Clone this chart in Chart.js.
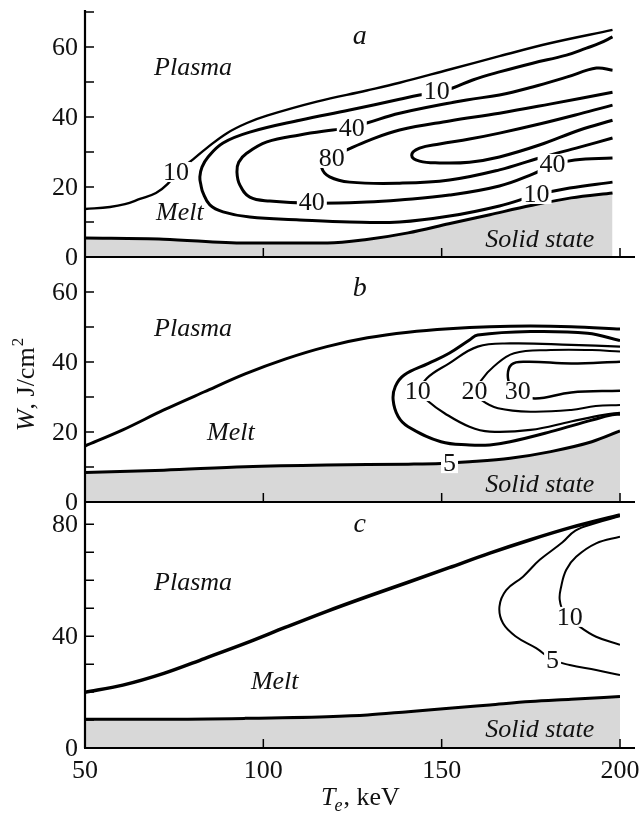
<!DOCTYPE html>
<html>
<head>
<meta charset="utf-8">
<script src="https://cdn.jsdelivr.net/npm/chart.js@4/dist/chart.umd.min.js"></script>
<style>
  html, body { margin: 0; padding: 0; background: #fff; }
  #wrap { position: relative; width: 640px; height: 813px; }
  #wrap canvas { position: absolute; left: 0; top: 0; }
</style>
</head>
<body>
<div id="wrap">
  <canvas id="chartA" width="640" height="813"></canvas>
  <canvas id="chartB" width="640" height="813"></canvas>
  <canvas id="chartC" width="640" height="813"></canvas>
</div>
<script>
// Ось X (T_e, keV)
const xTickValues = [50, 100, 150, 200];

// Панель a: границы и изолинии (x = T_e, y = W)
const aPlasma = [[50,13.7],[57,14.3],[61.2,15.1],[65.4,16.6],[69.9,18.3],[73.2,20.9],[75.8,24.3],[80.3,27.9],[84.2,31.2],[89.8,35.4],[95.4,38.3],[101,40.4],[115,44.4],[129,47.6],[138.2,49.8],[152.2,53.6],[166.2,57.4],[180.3,61.1],[197.9,64.9]];
const aLevel10 = [[197.9,62.9],[194.3,61.1],[190.6,59.7],[185,57.7],[175.5,55.4],[166.2,52.9],[158.7,50.6],[153.1,48.3],[148.6,47.1],[143.8,46.3],[138.2,45.1],[124.2,42],[110.2,39.1],[96.2,35.7],[88.7,32.6],[84.5,28.6],[82.8,25.7],[82.2,22.9],[82.5,20.6],[83.1,18.3],[85,14.9],[88.7,12.9],[96.2,11.4],[110.2,10.6],[124.2,10],[138.2,10],[152.2,11.7],[166.2,14.6],[176.6,17.7],[185.9,19.7],[197.9,21.4]];
const aLevel40 = [[197.9,53.4],[193.4,54],[185,51.4],[175.5,48.6],[166.2,46.3],[157,44.9],[138.2,41.1],[129,38.3],[124.2,36.9],[119.5,36.3],[110.2,34.9],[101,32.9],[95.4,29.7],[93.1,27.1],[92.6,24.3],[93.4,20.6],[96.2,17.1],[101.8,16],[113.9,15.4],[129,15.7],[138.2,16.3],[152.2,17.7],[166.2,20.3],[175.5,23.7],[181.1,26.3],[187.3,27.7],[197.9,28.3]];
const aLevel80 = [[197.9,47.1],[180.3,43.7],[166.2,41.1],[152.2,38.9],[138.2,36.3],[129.8,33.4],[122.8,30.3],[117.2,27.7],[116.4,25.4],[118.6,22.9],[124.2,21.4],[138.2,21.1],[152.2,22],[166.2,24.9],[177.4,28.3],[188.7,31.4],[197.9,34]];
const aLevelIn = [[197.9,43.4],[188.7,40.9],[177.4,38],[166.2,35.4],[157.8,33.7],[149.4,32.3],[143.8,31.1],[141.6,29.1],[143.8,27.4],[149.4,26.9],[157.8,27.1],[166.2,28.6],[177.4,32],[188.7,36.3],[197.9,39.1]];
const aSolid = [[50,5.4],[72,5.1],[95,4],[118,4],[129,5],[140.6,6.9],[152,9.5],[163.5,12.1],[175,14.7],[186.3,16.9],[197.9,18.3]];

// Панель b
const bPlasma = [[50,16],[60.6,20.6],[72.1,26.3],[83.5,31.5],[94.9,36.6],[106.3,40.9],[117.8,44.4],[129.2,46.9],[140.6,48.5],[152.1,49.5],[163.5,50.1],[174.9,50.3],[186.3,50.1],[200,49.4]];
const bOuter = [[200,46.1],[190.9,48.2],[174.9,48.7],[160.1,47.7],[157.8,46.3],[152.1,42.5],[146.3,39.6],[139.5,36.3],[137,33],[136.4,29.1],[137.8,24.4],[140.6,21.5],[149.8,17.2],[157.8,16.3],[163.5,16.3],[169.2,17.2],[180.6,20.1],[192.1,23.4],[197.8,24.9],[200,25.1]];
const bLevel10 = [[200,44.4],[186.3,44.9],[169.2,45.3],[160.1,44.4],[152.1,39.6],[145.8,35.3],[144.1,31.5],[146.3,28.7],[150.9,25.3],[157.8,21.5],[163.5,20.1],[174.9,20.6],[186.3,23],[195.5,24.9],[200,25.5]];
const bLevel20 = [[200,43],[192.1,43.4],[180.6,43.4],[170.3,42.5],[164.6,38.7],[161.2,34.9],[159.5,31.5],[161.2,29.1],[165.8,26.8],[174.9,25.8],[186.3,26.3],[193.2,27.4],[200,27.7]];
const bLevel30 = [[200,40.1],[186.3,39.6],[173.8,40.1],[169.6,39.3],[168.6,35.3],[170.5,31.5],[176.1,29.6],[186.3,31.3],[200,31.8]];
const bSolid = [[50,8.4],[72.1,9.1],[94.9,10.1],[117.8,10.6],[140.6,10.8],[149.8,11],[157.8,11.5],[169.2,12.5],[180.6,14.4],[192.1,17.2],[200,20.3]];

// Панель c
const cPlasma = [[50,19.9],[60.6,22.5],[72.1,26.7],[83.5,32],[94.9,37.4],[106.3,43.2],[117.8,48.9],[129.2,54.2],[140.6,59.3],[152.1,64.5],[163.5,69.7],[174.9,74.5],[186.3,78.9],[200,83.4]];
const cLevel5 = [[200,82.9],[193,80.4],[187.5,77.8],[183.8,73.5],[177.5,67.3],[172.8,61.3],[168.1,56.5],[166.2,50.6],[167.2,44.6],[170.9,39.8],[176.5,35.7],[181.2,31.5],[185.9,29.7],[193.3,27.9],[200,26.1]];
const cLevel10 = [[200,75.6],[193.3,73.2],[187.7,68.4],[184.9,63.7],[183.5,57.7],[183.1,53],[184.5,48],[188.7,43.4],[193.3,39.8],[200,36.9]];
const cSolid = [[50,10.3],[72.1,10.3],[94.9,10.6],[117.8,11.2],[129.2,11.8],[140.6,13],[152.1,14.2],[163.5,15.4],[174.9,16.6],[186.3,17.4],[200,18.4]];

const GRAY = '#d8d8d8';
const INK = '#111';
const FONT = '"Liberation Serif", "Times New Roman", serif';

function toPts(arr) {
    return arr.map(p => ({ x: p[0], y: p[1] }));
}

// Оси, засечки, подписи и надписи поверх линий
const decorPlugin = {
    id: 'decor',
    afterDatasetsDraw(chart, args, o) {
        const ctx = chart.ctx;
        const xs = chart.scales.x;
        const ys = chart.scales.y;
        const area = chart.chartArea;
        ctx.save();

        ctx.strokeStyle = '#000';
        ctx.lineWidth = 2.2;
        ctx.beginPath();
        ctx.moveTo(area.left, area.top);
        ctx.lineTo(area.left, area.bottom);
        ctx.moveTo(area.left - 1, area.bottom);
        ctx.lineTo(area.right + 15, area.bottom);
        ctx.stroke();

        ctx.lineWidth = 1.5;
        ctx.beginPath();
        o.yMinor.forEach(v => {
            const py = ys.getPixelForValue(v);
            ctx.moveTo(area.left, py);
            ctx.lineTo(area.left + 9, py);
        });
        xTickValues.slice(1).forEach(v => {
            const px = xs.getPixelForValue(v);
            ctx.moveTo(px, area.bottom);
            ctx.lineTo(px, area.bottom - 9);
        });
        ctx.stroke();

        ctx.fillStyle = INK;
        ctx.font = '26px ' + FONT;
        ctx.textAlign = 'right';
        ctx.textBaseline = 'middle';
        o.yLabels.forEach(v => ctx.fillText(String(v), area.left - 7, ys.getPixelForValue(v) + 1));

        if (o.xLabels) {
            ctx.textAlign = 'center';
            ctx.textBaseline = 'top';
            xTickValues.forEach(v => ctx.fillText(String(v), xs.getPixelForValue(v), area.bottom + 10));
        }

        // числа на изолиниях (с белой подложкой)
        ctx.textAlign = 'center';
        ctx.textBaseline = 'middle';
        o.numbers.forEach(n => {
            const px = xs.getPixelForValue(n[1]);
            const py = ys.getPixelForValue(n[2]);
            const w = ctx.measureText(n[0]).width;
            ctx.fillStyle = '#fff';
            ctx.fillRect(px - w / 2 - 2, py - 10, w + 4, 20);
            ctx.fillStyle = INK;
            ctx.fillText(n[0], px, py + 1);
        });

        ctx.font = 'italic 26px ' + FONT;
        o.regions.forEach(r => ctx.fillText(r[0], xs.getPixelForValue(r[1]), ys.getPixelForValue(r[2])));

        ctx.font = 'italic 28px ' + FONT;
        ctx.fillText(o.letter[0], xs.getPixelForValue(o.letter[1]), ys.getPixelForValue(o.letter[2]));

        if (o.titles) {
            // подпись оси X: T_e, keV
            const cx = (area.left + area.right) / 2 + 8;
            const by = area.bottom + 57;
            ctx.textAlign = 'left';
            ctx.textBaseline = 'alphabetic';
            ctx.font = 'italic 26px ' + FONT;
            const wT = ctx.measureText('T').width;
            ctx.font = 'italic 18px ' + FONT;
            const wE = ctx.measureText('e').width;
            ctx.font = '26px ' + FONT;
            const wK = ctx.measureText(', keV').width;
            let x0 = cx - (wT + wE + wK) / 2;
            ctx.font = 'italic 26px ' + FONT;
            ctx.fillText('T', x0, by);
            ctx.font = 'italic 18px ' + FONT;
            ctx.fillText('e', x0 + wT - 1, by + 6);
            ctx.font = '26px ' + FONT;
            ctx.fillText(', keV', x0 + wT + wE, by);

            // подпись оси Y: W, J/cm^2
            ctx.save();
            ctx.translate(area.left - 60, 385);
            ctx.rotate(-Math.PI / 2);
            ctx.font = 'italic 26px ' + FONT;
            const wW = ctx.measureText('W').width;
            ctx.font = '26px ' + FONT;
            const wJ = ctx.measureText(', J/cm').width;
            ctx.font = '17px ' + FONT;
            const w2 = ctx.measureText('2').width;
            x0 = -(wW + wJ + w2) / 2;
            ctx.font = 'italic 26px ' + FONT;
            ctx.fillText('W', x0, 9);
            ctx.font = '26px ' + FONT;
            ctx.fillText(', J/cm', x0 + wW, 9);
            ctx.font = '17px ' + FONT;
            ctx.fillText('2', x0 + wW + wJ + 1, -2);
            ctx.restore();
        }
        ctx.restore();
    }
};

function makeChart(id, pad, yMax, lines, decor) {
    const ctx = document.getElementById(id).getContext('2d');
    return new Chart(ctx, {
        type: 'line',
        data: {
            datasets: lines.map(l => ({
                data: toPts(l.pts),
                borderColor: '#000',
                borderWidth: l.w,
                pointRadius: 0,
                tension: 0.4,
                cubicInterpolationMode: l.mono ? 'monotone' : 'default',
                fill: l.fill ? 'origin' : false,
                backgroundColor: GRAY
            }))
        },
        options: {
            responsive: false,
            animation: false,
            events: [],
            layout: { padding: pad },
            scales: {
                x: { type: 'linear', min: 50, max: 200, display: false },
                y: { type: 'linear', min: 0, max: yMax, display: false }
            },
            plugins: {
                legend: { display: false },
                tooltip: { enabled: false },
                decor: decor
            }
        },
        plugins: [decorPlugin]
    });
}

document.addEventListener('DOMContentLoaded', () => {
    makeChart('chartA', { left: 85, right: 20, top: 10, bottom: 556 }, 70.6, [
        { pts: aSolid, w: 3, fill: true, mono: true },
        { pts: aPlasma, w: 2.4 },
        { pts: aLevel10, w: 3 },
        { pts: aLevel40, w: 3 },
        { pts: aLevel80, w: 3 },
        { pts: aLevelIn, w: 3 }
    ], {
        yLabels: [0, 20, 40, 60],
        yMinor: [10, 20, 30, 40, 50, 60, 70],
        xLabels: false,
        numbers: [['10', 75.5, 24.3], ['10', 148.6, 47.4], ['40', 124.8, 36.9], ['80', 119.2, 28.3], ['40', 113.6, 15.7], ['10', 176.6, 18.0], ['40', 181.1, 26.6]],
        regions: [['Plasma', 80.3, 54], ['Melt', 76.6, 12.6], ['Solid state', 177.5, 4.9]],
        letter: ['a', 127, 62.9]
    });

    makeChart('chartB', { left: 85, right: 20, top: 257, bottom: 311 }, 70, [
        { pts: bSolid, w: 3, fill: true, mono: true },
        { pts: bPlasma, w: 3, mono: true },
        { pts: bOuter, w: 3 },
        { pts: bLevel10, w: 2.2 },
        { pts: bLevel20, w: 2 },
        { pts: bLevel30, w: 2.5 }
    ], {
        yLabels: [0, 20, 40, 60],
        yMinor: [10, 20, 30, 40, 50, 60],
        xLabels: false,
        numbers: [['10', 143.3, 31.7], ['20', 159.2, 31.7], ['30', 171.3, 31.7], ['5', 152.2, 11.1]],
        regions: [['Plasma', 80.3, 49.3], ['Melt', 90.9, 19.6], ['Solid state', 177.5, 4.9]],
        letter: ['b', 127, 61.1]
    });

    makeChart('chartC', { left: 85, right: 20, top: 502, bottom: 65 }, 88, [
        { pts: cSolid, w: 3, fill: true, mono: true },
        { pts: cPlasma, w: 3.5, mono: true },
        { pts: cLevel5, w: 2 },
        { pts: cLevel10, w: 2 }
    ], {
        yLabels: [0, 40, 80],
        yMinor: [10, 20, 30, 40, 50, 60, 70, 80],
        xLabels: true,
        titles: true,
        numbers: [['10', 185.9, 46.9], ['5', 181.1, 31.5]],
        regions: [['Plasma', 80.3, 59], ['Melt', 103.2, 23.7], ['Solid state', 177.5, 6.2]],
        letter: ['c', 127, 79.8]
    });
});
</script>
</body>
</html>
